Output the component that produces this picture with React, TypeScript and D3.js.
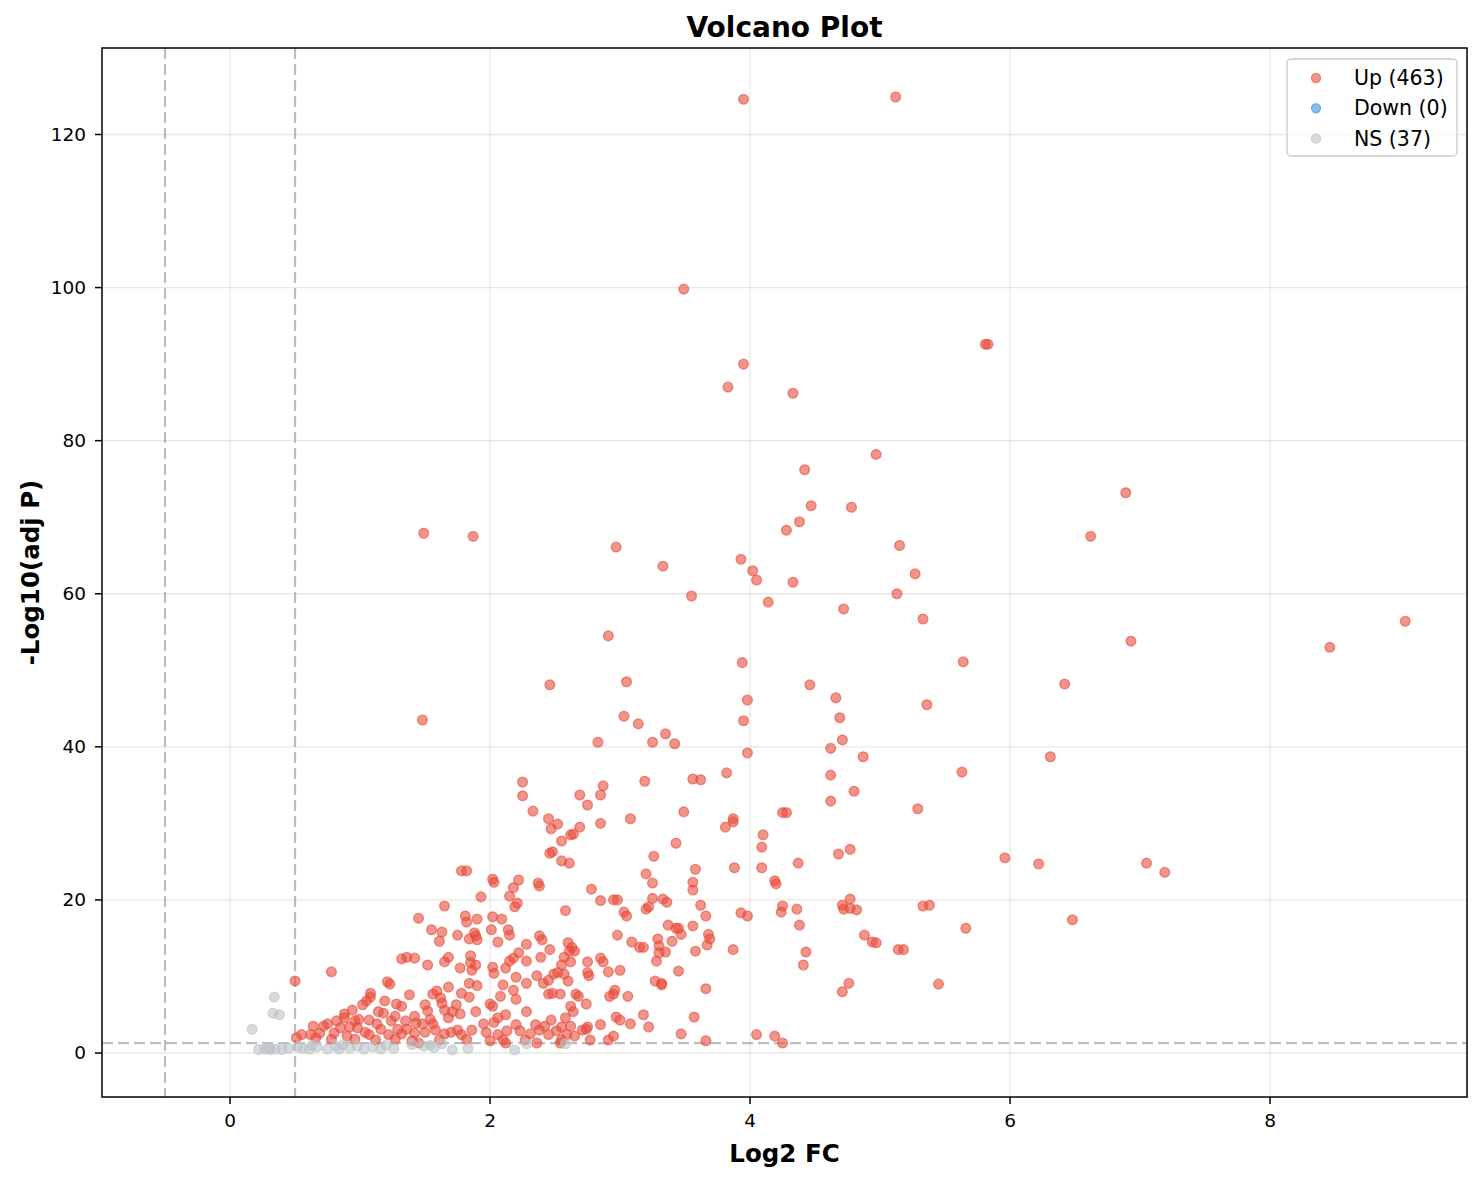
import React from 'react';
import * as d3 from 'd3';

// Up-regulated genes: [log2FC, -log10(adjP)]
const upPoints: [number, number][] = [
  [5.12, 124.9], [3.95, 124.6], [3.49, 99.8], [3.95, 90.0], [5.81, 92.6], [5.83, 92.6],
  [3.83, 87.0], [4.33, 86.2], [4.97, 78.2], [4.42, 76.2], [6.89, 73.2], [4.47, 71.5],
  [4.78, 71.3], [4.38, 69.4], [4.28, 68.3], [1.49, 67.9], [1.87, 67.5], [6.62, 67.5],
  [5.15, 66.3], [2.97, 66.1], [3.93, 64.5], [3.33, 63.6], [4.02, 63.0], [5.27, 62.6],
  [4.05, 61.8], [4.33, 61.5], [5.13, 60.0], [3.55, 59.7], [4.14, 58.9], [4.72, 58.0],
  [5.33, 56.7], [9.04, 56.4], [2.91, 54.5], [6.93, 53.8], [8.46, 53.0], [5.64, 51.1],
  [3.94, 51.0], [3.05, 48.5], [2.46, 48.1], [4.46, 48.1], [6.42, 48.2], [4.66, 46.4],
  [3.98, 46.1], [5.36, 45.5], [3.03, 44.0], [1.48, 43.5], [3.95, 43.4], [4.69, 43.8],
  [3.14, 43.0], [3.35, 41.7], [3.25, 40.6], [2.83, 40.6], [4.71, 40.9], [3.42, 40.4],
  [4.62, 39.8], [3.98, 39.2], [4.87, 38.7], [6.31, 38.7], [5.63, 36.7], [4.62, 36.3],
  [3.82, 36.6], [3.56, 35.8], [3.62, 35.7], [3.19, 35.5], [2.25, 35.4], [2.87, 34.9],
  [4.80, 34.2], [2.69, 33.7], [2.25, 33.6], [2.85, 33.7], [4.62, 32.9], [2.75, 32.4],
  [5.29, 31.9], [2.33, 31.6], [3.49, 31.5], [4.25, 31.4], [4.28, 31.4], [2.45, 30.6],
  [3.08, 30.6], [3.87, 30.6], [3.87, 30.2], [2.52, 29.9], [2.85, 30.0], [3.81, 29.5],
  [2.69, 29.5], [2.47, 29.3], [4.10, 28.5], [2.64, 28.6], [2.62, 28.5], [2.55, 27.7],
  [3.43, 27.4], [4.09, 26.9], [4.77, 26.6], [2.46, 26.1], [2.48, 26.3], [4.68, 26.0],
  [3.26, 25.7], [5.96, 25.5], [2.55, 25.1], [2.61, 24.8], [4.37, 24.8], [7.05, 24.8],
  [6.22, 24.7], [4.09, 24.2], [3.88, 24.2], [3.58, 24.0], [1.78, 23.8], [1.82, 23.8],
  [7.19, 23.6], [3.20, 23.4], [4.19, 22.5], [2.22, 22.6], [2.02, 22.7], [2.03, 22.3],
  [3.25, 22.2], [3.56, 22.3], [4.20, 22.1], [2.37, 22.2], [2.38, 21.8], [2.18, 21.6],
  [2.78, 21.4], [3.56, 21.3], [2.15, 20.5], [1.93, 20.4], [3.25, 20.2], [4.77, 20.1],
  [3.33, 20.1], [2.95, 20.0], [2.98, 20.0], [2.85, 19.9], [3.36, 19.7], [2.21, 19.6],
  [2.19, 19.1], [1.65, 19.2], [3.62, 19.3], [4.25, 19.2], [4.71, 19.3], [5.33, 19.2],
  [5.38, 19.3], [4.36, 18.8], [4.82, 18.7], [4.77, 18.9], [4.72, 18.8], [3.20, 18.8],
  [3.22, 19.1], [2.58, 18.6], [4.24, 18.4], [3.03, 18.4], [3.05, 17.9], [3.93, 18.3],
  [3.98, 17.9], [1.81, 17.9], [2.02, 17.8], [3.66, 17.9], [1.45, 17.6], [1.90, 17.5],
  [2.09, 17.5], [6.48, 17.4], [1.82, 17.1], [4.38, 16.7], [3.37, 16.7], [3.56, 16.6],
  [3.43, 16.3], [5.66, 16.3], [1.55, 16.1], [3.45, 16.3], [2.14, 16.1], [2.01, 16.1],
  [1.63, 15.8], [1.88, 15.7], [1.89, 15.3], [2.15, 15.4], [1.75, 15.4], [2.38, 15.3],
  [2.98, 15.4], [3.47, 15.5], [3.68, 15.5], [4.88, 15.4], [3.69, 14.9], [2.40, 14.8],
  [1.84, 14.9], [1.90, 14.8], [1.61, 14.6], [3.40, 14.6], [2.06, 14.5], [3.09, 14.5],
  [3.29, 14.9], [2.60, 14.4], [4.94, 14.5], [4.97, 14.4], [3.67, 14.1], [3.15, 13.8],
  [3.18, 13.8], [3.30, 14.0], [2.63, 13.8], [2.28, 14.2], [5.14, 13.5], [5.18, 13.5],
  [2.65, 13.3], [2.61, 13.3], [3.87, 13.5], [3.58, 13.3], [4.43, 13.2], [3.35, 13.2],
  [3.30, 13.1], [2.46, 13.5], [2.22, 13.1], [1.36, 12.5], [1.32, 12.3], [1.42, 12.4],
  [1.68, 12.5], [1.85, 12.7], [2.18, 12.4], [2.39, 12.5], [2.57, 12.5], [2.85, 12.4],
  [2.87, 11.9], [2.28, 12.0], [1.85, 11.8], [2.15, 12.0], [2.62, 11.9], [2.75, 11.9],
  [1.65, 11.9], [1.52, 11.5], [2.55, 11.5], [4.41, 11.5], [3.28, 12.0], [1.89, 11.5],
  [2.12, 11.1], [1.77, 11.1], [2.02, 11.2], [3.00, 10.8], [3.45, 10.7], [2.91, 10.6],
  [2.75, 10.5], [2.76, 10.1], [2.52, 10.5], [2.57, 10.3], [2.49, 10.3], [0.78, 10.6],
  [1.86, 10.8], [2.03, 10.4], [2.36, 10.1], [2.20, 9.9], [1.21, 9.3], [1.23, 9.0],
  [0.50, 9.4], [2.60, 9.4], [3.27, 9.4], [3.32, 9.1], [1.84, 9.1], [2.28, 9.1],
  [2.45, 9.5], [2.41, 9.1], [2.10, 8.9], [1.90, 8.8], [3.32, 8.9], [5.45, 9.0],
  [4.76, 9.1], [2.18, 8.2], [3.66, 8.4], [4.71, 8.0], [2.96, 8.2], [2.95, 7.7],
  [1.68, 8.6], [1.59, 8.1], [1.78, 7.8], [1.56, 7.7], [1.38, 7.6], [1.08, 7.8],
  [1.08, 7.3], [1.62, 7.2], [2.48, 7.8], [2.66, 7.7], [2.68, 7.4], [2.45, 7.7],
  [2.54, 7.7], [2.92, 7.4], [3.06, 7.4], [2.08, 7.4], [1.84, 7.3], [2.20, 7.0],
  [1.05, 6.8], [1.19, 6.8], [1.28, 6.4], [1.32, 6.1], [1.50, 6.3], [1.74, 6.3],
  [1.63, 6.5], [2.00, 6.4], [2.02, 6.1], [2.62, 6.1], [2.74, 6.4], [1.02, 6.3],
  [0.94, 5.6], [1.18, 5.2], [1.14, 5.4], [0.88, 5.1], [1.52, 5.5], [1.65, 5.6],
  [1.71, 5.4], [1.77, 5.1], [1.89, 5.4], [2.28, 5.4], [2.64, 5.4], [1.27, 4.8],
  [1.42, 4.8], [1.54, 4.4], [1.68, 4.6], [2.06, 4.6], [2.97, 4.7], [3.18, 5.0],
  [3.57, 4.7], [3.00, 4.3], [2.47, 4.3], [2.58, 4.6], [2.03, 4.0], [2.12, 5.0],
  [0.88, 4.6], [0.96, 4.2], [0.99, 4.4], [0.82, 4.2], [1.07, 4.3], [1.24, 4.2],
  [1.35, 4.2], [1.43, 3.9], [1.48, 3.8], [1.56, 3.8], [1.13, 3.8], [1.95, 3.8],
  [2.20, 3.7], [2.35, 3.7], [2.42, 3.5], [3.08, 3.8], [3.22, 3.4], [2.55, 3.4],
  [2.62, 3.5], [2.75, 3.4], [2.85, 3.7], [0.64, 3.5], [0.72, 3.5], [0.75, 3.8],
  [0.85, 3.3], [0.92, 3.4], [0.98, 3.3], [1.16, 3.1], [1.29, 3.1], [1.36, 3.1],
  [1.58, 3.0], [1.75, 3.0], [1.86, 3.0], [2.13, 2.9], [2.38, 3.0], [2.71, 3.0],
  [2.74, 3.1], [2.51, 2.9], [2.23, 2.9], [1.97, 2.7], [1.70, 2.7], [1.50, 2.7],
  [1.42, 2.6], [1.04, 2.7], [0.80, 2.6], [0.69, 2.6], [0.55, 2.4], [0.62, 2.4],
  [0.90, 2.2], [1.07, 2.4], [1.22, 2.4], [1.32, 2.5], [1.65, 2.5], [1.78, 2.4],
  [2.06, 2.4], [2.31, 2.5], [2.45, 2.4], [2.59, 2.4], [2.65, 2.2], [2.95, 2.2],
  [3.47, 2.5], [4.05, 2.4], [4.19, 2.2], [4.25, 1.3], [3.66, 1.6], [0.51, 2.0],
  [0.66, 2.0], [0.78, 1.8], [0.96, 1.8], [1.12, 1.7], [1.27, 1.8], [1.40, 1.6],
  [1.61, 1.7], [1.82, 1.8], [2.00, 1.6], [2.10, 1.7], [2.27, 1.7], [2.55, 1.7],
  [2.77, 1.7], [2.91, 1.7], [1.45, 1.3], [2.12, 1.3], [2.36, 1.3], [2.54, 1.3],
];

// Down-regulated genes (none)
const downPoints: [number, number][] = [];

// Not significant genes
const nsPoints: [number, number][] = [
  [0.17, 3.1], [0.34, 7.3], [0.33, 5.2], [0.38, 5.0], [0.22, 0.45], [0.27, 0.5],
  [0.31, 0.45], [0.35, 0.5], [0.40, 0.45], [0.30, 0.6], [0.56, 0.6], [0.61, 0.5],
  [0.67, 0.8], [0.75, 0.5], [0.81, 0.9], [0.84, 0.5], [0.92, 0.6], [1.03, 0.5],
  [1.10, 0.8], [1.16, 0.5], [1.26, 0.6], [1.49, 0.9], [1.54, 1.0], [1.57, 0.7],
  [1.71, 0.4], [1.83, 0.6], [2.19, 0.4], [2.28, 1.2], [2.58, 1.2], [0.45, 0.6],
  [0.63, 1.0], [0.87, 1.1], [0.98, 0.9], [1.20, 1.0], [1.40, 1.1], [1.63, 1.2],
  [0.52, 0.8],
];

const legendLabels = ['Up (463)', 'Down (0)', 'NS (37)'];
const legendColors = ['#e74c3c', '#3498db', '#bdc3c7'];
const xTicks = [0, 2, 4, 6, 8];
const yTicks = [0, 20, 40, 60, 80, 100, 120];
const fcThreshold = 0.5;
const pThreshold = -Math.log10(0.05);

const W = 1482;
const H = 1180;
const margin = { top: 48, right: 15, bottom: 83, left: 102 };
const font = 'DejaVu Sans, sans-serif';

export default function App() {
  const x = d3.scaleLinear().domain([-0.985, 9.515]).range([margin.left, W - margin.right]);
  const y = d3.scaleLinear().domain([-5.75, 131.3]).range([H - margin.bottom, margin.top]);
  const [x0, x1] = x.range();
  const [y0, y1] = y.range();

  const series = [
    { pts: upPoints, color: legendColors[0] },
    { pts: downPoints, color: legendColors[1] },
    { pts: nsPoints, color: legendColors[2] },
  ];

  return (
    <div style={{ position: 'absolute', left: 0, top: 0 }}>
      <svg width={W} height={H} style={{ display: 'block', background: '#fff' }} fontFamily={font}>
        <defs>
          <clipPath id="plot-clip">
            <rect x={x0} y={y1} width={x1 - x0} height={y0 - y1} />
          </clipPath>
        </defs>

        {/* grid */}
        {xTicks.map((t) => (
          <line key={'gx' + t} x1={x(t)} x2={x(t)} y1={y1} y2={y0} stroke="#b0b0b0" strokeOpacity={0.3} strokeWidth={1.3} />
        ))}
        {yTicks.map((t) => (
          <line key={'gy' + t} x1={x0} x2={x1} y1={y(t)} y2={y(t)} stroke="#b0b0b0" strokeOpacity={0.3} strokeWidth={1.3} />
        ))}

        {/* threshold lines */}
        <g clipPath="url(#plot-clip)" stroke="#999" strokeOpacity={0.65} strokeWidth={2.2} strokeDasharray="11,5">
          <line x1={x(-fcThreshold)} x2={x(-fcThreshold)} y1={y1} y2={y0} />
          <line x1={x(fcThreshold)} x2={x(fcThreshold)} y1={y1} y2={y0} />
          <line x1={x0} x2={x1} y1={y(pThreshold)} y2={y(pThreshold)} />
        </g>

        {/* points */}
        <g clipPath="url(#plot-clip)">
          {series.map((s, si) =>
            s.pts.map((d, i) => (
              <circle key={si + '-' + i} cx={x(d[0])} cy={y(d[1])} r={4.9}
                fill={s.color} fillOpacity={0.6} stroke={s.color} strokeOpacity={0.6} strokeWidth={1.3} />
            ))
          )}
        </g>

        {/* frame */}
        <rect x={x0} y={y1} width={x1 - x0} height={y0 - y1} fill="none" stroke="#000" strokeWidth={1.5} />

        {/* x axis */}
        {xTicks.map((t) => (
          <g key={'xt' + t}>
            <line x1={x(t)} x2={x(t)} y1={y0} y2={y0 + 7} stroke="#000" strokeWidth={1.5} />
            <text x={x(t)} y={y0 + 30} textAnchor="middle" fontSize={18.5} fill="#000">{t}</text>
          </g>
        ))}
        {/* y axis */}
        {yTicks.map((t) => (
          <g key={'yt' + t}>
            <line x1={x0 - 7} x2={x0} y1={y(t)} y2={y(t)} stroke="#000" strokeWidth={1.5} />
            <text x={x0 - 16} y={y(t)} dy="0.35em" textAnchor="end" fontSize={18.5} fill="#000">{t}</text>
          </g>
        ))}

        {/* labels */}
        <text x={(x0 + x1) / 2} y={37} textAnchor="middle" fontSize={28} fontWeight="bold">Volcano Plot</text>
        <text x={(x0 + x1) / 2} y={1162} textAnchor="middle" fontSize={24.5} fontWeight="bold">Log2 FC</text>
        <text transform={`translate(39,${(y0 + y1) / 2}) rotate(-90)`} textAnchor="middle" fontSize={24.5} fontWeight="bold">-Log10(adj P)</text>

        {/* legend */}
        <g transform="translate(1287,59)">
          <rect x={0} y={0} width={170} height={97} rx={4} fill="#fff" fillOpacity={0.8} stroke="#cccccc" strokeWidth={1.3} />
          {legendLabels.map((lab, i) => (
            <g key={lab} transform={`translate(0,${19 + i * 30.3})`}>
              <circle cx={29} cy={0} r={4.6} fill={legendColors[i]} fillOpacity={0.6} stroke={legendColors[i]} strokeOpacity={0.6} strokeWidth={1.3} />
              <text x={67} y={0} dy="0.35em" fontSize={20.5} fill="#000">{lab}</text>
            </g>
          ))}
        </g>
      </svg>
    </div>
  );
}
